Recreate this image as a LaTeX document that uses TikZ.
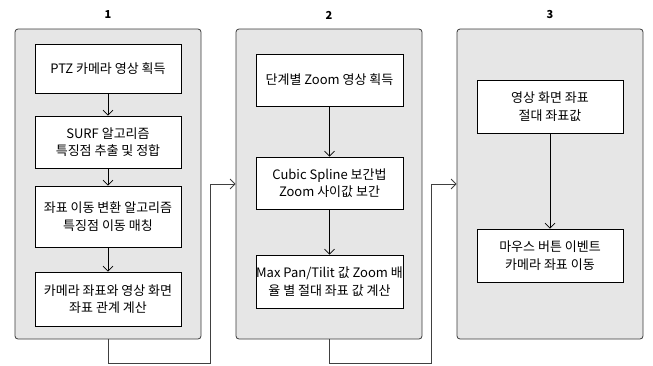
\documentclass[tikz,border=0pt]{standalone}
\usepackage{fontspec}
\setmainfont{Noto Sans CJK KR}
\usetikzlibrary{arrows.meta}
\definecolor{contfill}{HTML}{E6E6E6}
\definecolor{contline}{HTML}{3A3A3A}
\tikzset{
  cont/.style={draw=contline, fill=contfill, rounded corners=3pt, line width=0.8pt, minimum width=186pt, minimum height=310pt},
  ibox/.style={draw=black, fill=white, line width=0.7pt, minimum width=146pt, align=center, font=\fontsize{13pt}{17.5pt}\selectfont, inner sep=0pt},
  num/.style={font=\bfseries\fontsize{11pt}{12pt}\selectfont},
  flow/.style={draw=black, line width=0.7pt, -{Straight Barb[length=5pt,width=10pt]}},
  link/.style={draw=black!75, line width=0.8pt, -{Straight Barb[length=5pt,width=10pt]}}
}
\begin{document}
\begin{tikzpicture}[x=1pt,y=-1pt]
\useasboundingbox (0,0) rectangle (653,365);
% containers
\node[cont] (c1) at (108,184) {};
\node[cont] (c2) at (329,184) {};
\node[cont] (c3) at (550,184) {};
\node[num] (n1) at (108,15) {1};
\node[num] (n2) at (329,15) {2};
\node[num] (n3) at (550,15) {3};
% column 1
\node[ibox, minimum height=49pt] (a1) at (108,68.5) {PTZ 카메라 영상 획득};
\node[ibox, minimum height=52pt] (a2) at (108,142) {SURF 알고리즘\\특징점 추출 및 정합};
\node[ibox, minimum height=61pt] (a3) at (108,216.5) {좌표 이동 변환 알고리즘\\특징점 이동 매칭};
\node[ibox, minimum height=54pt] (a4) at (108,299) {카메라 좌표와 영상 화면\\좌표 관계 계산};
% column 2
\node[ibox, minimum height=52pt, minimum width=147pt] (b1) at (329.5,80) {단계별 Zoom 영상 획득};
\node[ibox, minimum height=52pt, minimum width=147pt] (b2) at (329.5,183) {Cubic Spline 보간법\\Zoom 사이값 보간};
\node[ibox, minimum height=53pt, minimum width=147pt] (b3) at (329.5,281.5) {Max Pan/Tilit 값 Zoom 배\\율 별 절대 좌표 값 계산};
% column 3
\node[ibox, minimum height=53pt] (d1) at (550,106.5) {영상 화면 좌표\\절대 좌표값};
\node[ibox, minimum height=53pt] (d2) at (550,255.5) {마우스 버튼 이벤트\\카메라 좌표 이동};
% inner arrows
\draw[flow] (a1.south) -- (a2.north);
\draw[flow] (a2.south) -- (a3.north);
\draw[flow] (a3.south) -- (a4.north);
\draw[flow] (b1.south) -- (b2.north);
\draw[flow] (b2.south) -- (b3.north);
\draw[flow] (d1.south) -- (d2.north);
% links between containers
\coordinate (p1) at (210,363.5);
\coordinate (p2) at (431,363.5);
\draw[link] (c1.south) |- (p1) |- (c2.west);
\draw[link] (c2.south) |- (p2) |- (c3.west);
\end{tikzpicture}
\end{document}
